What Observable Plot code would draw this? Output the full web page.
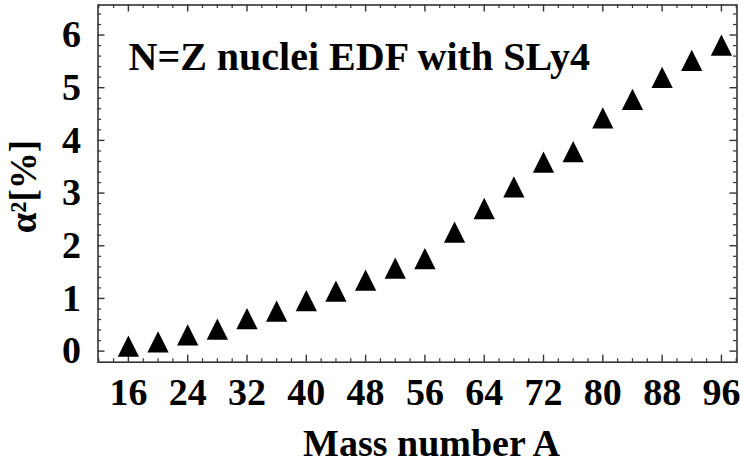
<!DOCTYPE html>
<html>
<head>
<meta charset="utf-8">
<script src="https://cdn.jsdelivr.net/npm/d3@7"></script>
<script src="https://cdn.jsdelivr.net/npm/@observablehq/plot@0.6"></script>
<style>
  html, body { margin: 0; padding: 0; background: #fff; }
  #chart svg { display: block; }
</style>
</head>
<body>
<div id="chart"></div>
<script>
// Data
const massNumber = [16, 20, 24, 28, 32, 36, 40, 44, 48, 52, 56, 60, 64, 68, 72, 76, 80, 84, 88, 92, 96];
const alpha2 = [0.03, 0.11, 0.24, 0.35, 0.55, 0.69, 0.89, 1.07, 1.28, 1.51, 1.69, 2.19, 2.64, 3.05, 3.52, 3.72, 4.36, 4.71, 5.13, 5.45, 5.74];
const xTickLabels = [16, 24, 32, 40, 48, 56, 64, 72, 80, 88, 96];
const yTickLabels = [0, 1, 2, 3, 4, 5, 6];
const titleText = "N=Z nuclei EDF with SLy4";
const xLabel = "Mass number A";
const yLabel = "α²[%]";

const data = massNumber.map((a, i) => ({A: a, v: alpha2[i]}));

const W = 741, H = 465;
const mL = 97.5, mR = 4.5, mT = 4.5, mB = 103.3;
const innerH = H - mT - mB;
const innerW = W - mL - mR;
const xDomain = [11.9, 98.1];
const yDomain = [-0.21, 6.57];

const xMinor = d3.range(12, 99, 2).filter(v => v % 8 !== 0);
const yMinor = d3.range(0, 6.5, 0.2).map(v => +v.toFixed(1)).filter(v => Math.abs(v - Math.round(v)) > 1e-6);

const font = "'Liberation Serif', 'Times New Roman', serif";
const ink = "#333333";
const majorLen = 7, minorLen = 3.5;

// Triangle marker: equal width and height, centroid on the data point
const triangle = {
  draw(context, size) {
    const h = Math.sqrt(size) * 1.2;
    context.moveTo(0, -2 * h / 3);
    context.lineTo(h / 2, h / 3);
    context.lineTo(-h / 2, h / 3);
    context.closePath();
  }
};

const chart = Plot.plot({
  width: W,
  height: H,
  marginLeft: mL,
  marginRight: mR,
  marginTop: mT,
  marginBottom: mB,
  style: {fontFamily: font, background: "white", color: "black"},
  x: {domain: xDomain},
  y: {domain: yDomain},
  marks: [
    // inward ticks: bottom & top
    Plot.tickX(xTickLabels, {x: d => d, stroke: ink, strokeWidth: 1.4, insetTop: innerH - majorLen}),
    Plot.tickX(xMinor, {x: d => d, stroke: ink, strokeWidth: 1.2, insetTop: innerH - minorLen}),
    Plot.tickX(xTickLabels, {x: d => d, stroke: ink, strokeWidth: 1.4, insetBottom: innerH - majorLen}),
    Plot.tickX(xMinor, {x: d => d, stroke: ink, strokeWidth: 1.2, insetBottom: innerH - minorLen}),
    // inward ticks: left & right
    Plot.tickY(yTickLabels, {y: d => d, stroke: ink, strokeWidth: 1.4, insetRight: innerW - majorLen}),
    Plot.tickY(yMinor, {y: d => d, stroke: ink, strokeWidth: 1.2, insetRight: innerW - minorLen}),
    Plot.tickY(yTickLabels, {y: d => d, stroke: ink, strokeWidth: 1.4, insetLeft: innerW - majorLen}),
    Plot.tickY(yMinor, {y: d => d, stroke: ink, strokeWidth: 1.2, insetLeft: innerW - minorLen}),
    Plot.frame({stroke: ink, strokeWidth: 1.6}),
    // tick labels
    Plot.axisX(xTickLabels, {tickSize: 0, tickPadding: 16, tickFormat: d => String(d), fontSize: 38, fontWeight: "bold", fill: "black", label: null}),
    Plot.axisY(yTickLabels, {tickSize: 0, tickPadding: 17, tickFormat: d => String(d), fontSize: 38, fontWeight: "bold", fill: "black", label: null}),
    // data
    Plot.dot(data, {x: "A", y: "v", symbol: triangle, r: 10, fill: "black", stroke: "none"}),
    // title inside plot
    Plot.text([titleText], {frameAnchor: "top-left", dx: 30.5, dy: 36.5, lineAnchor: "top", textAnchor: "start",
      fontSize: 40, fontWeight: "bold", fill: "black"}),
    // axis labels
    Plot.text([xLabel], {frameAnchor: "bottom", dx: 14, dy: 94, lineAnchor: "bottom", textAnchor: "middle",
      fontSize: 38, fontWeight: "bold", fill: "black"}),
    Plot.text([yLabel], {frameAnchor: "left", dx: -62, dy: 3, rotate: -90, lineAnchor: "bottom", textAnchor: "middle",
      fontSize: 37, fontWeight: "bold", fill: "black"})
  ]
});

document.getElementById("chart").appendChild(chart);
</script>
</body>
</html>
